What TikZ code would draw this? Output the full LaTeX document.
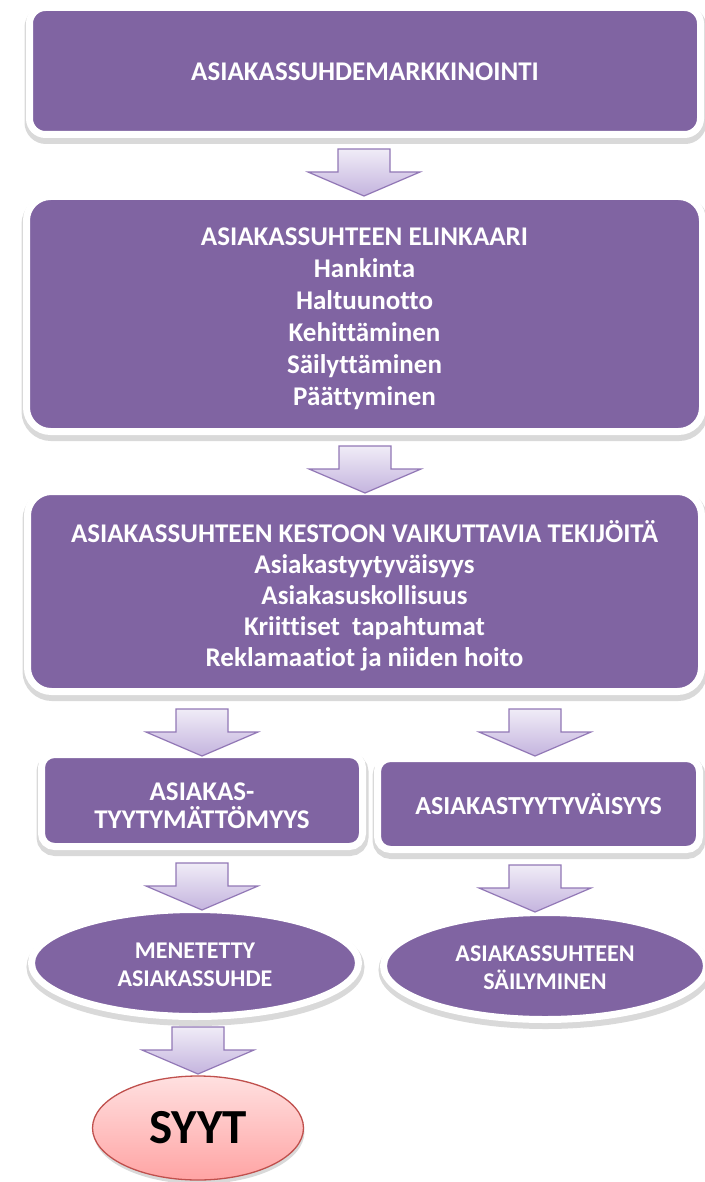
\documentclass[tikz,border=0pt]{standalone}
\usepackage{fontspec}
\setmainfont{Carlito}[Ligatures=NoCommon]
\usetikzlibrary{shapes.geometric}
\definecolor{purp}{RGB}{128,100,162}
\definecolor{arrtop}{RGB}{240,236,247}
\definecolor{arrbot}{RGB}{196,180,222}
\definecolor{arrline}{RGB}{146,120,182}
\definecolor{pinktop}{RGB}{255,224,224}
\definecolor{pinkbot}{RGB}{255,164,164}
\definecolor{redline}{RGB}{192,80,77}
\tikzset{
  softshadow/.style={preaction={draw=black, draw opacity=0.15, line width=11pt, fill=none,
      transform canvas={xshift=0.5pt, yshift=-4pt}}},
  pbox/.style={softshadow, rectangle, rounded corners=#1, fill=purp, draw=white,
      line width=7pt, inner sep=0pt},
  pell/.style={softshadow, ellipse, fill=purp, draw=white, line width=7pt, inner sep=0pt},
  ptext/.style={text=white, align=center, inner sep=0pt,
      font=\fontsize{27}{32}\selectfont\bfseries},
  redell/.style={ellipse, top color=pinktop, bottom color=pinkbot, draw=redline,
      line width=1.3pt, inner sep=0pt, font=\fontsize{49}{52}\selectfont\bfseries,
      preaction={fill=black, fill opacity=0.15, transform canvas={xshift=1pt, yshift=-4pt}}},
  blockarrow/.pic={
    \path[top color=arrtop, bottom color=arrbot, draw=arrline, line width=1.2pt, line join=miter]
      (-26,0) -- (26,0) -- (26,23) -- (56,23) -- (0,47) -- (-56,23) -- (-26,23) -- cycle;
  }
}
\begin{document}
\begin{tikzpicture}[x=1pt, y=-1pt]
\useasboundingbox[fill=white] (0,0) rectangle (704,1182);

% boxes and ellipses
\node[pbox=16, minimum width=671pt, minimum height=127pt] (b1) at (365,71) {};
\node[pbox=24, minimum width=676pt, minimum height=235pt] (b2) at (364.5,314) {};
\node[pbox=24, minimum width=674pt, minimum height=200pt] (b3) at (364.5,591.5) {};
\node[pbox=13, minimum width=321pt, minimum height=92pt] (b4) at (202,800.5) {};
\node[pbox=13, minimum width=322pt, minimum height=91pt] (b5) at (538.5,804) {};
\node[pell, minimum width=327pt, minimum height=107pt] (e1) at (195,963) {};
\node[pell, minimum width=323pt, minimum height=107pt] (e2) at (545,966) {};
\node[redell, minimum width=211pt, minimum height=104pt] (syyt) at (198,1128) {SYYT};

% texts
\node[ptext] (t1) at ([yshift=-1pt]b1.center) {ASIAKASSUHDEMARKKINOINTI};
\node[ptext] (t2) at ([yshift=-5pt]b2.center)
  {ASIAKASSUHTEEN ELINKAARI\\Hankinta\\Haltuunotto\\Kehittäminen\\Säilyttäminen\\Päättyminen};
\node[ptext, font=\fontsize{27}{31}\selectfont\bfseries] (t3) at ([yshift=-4.5pt]b3.center)
  {ASIAKASSUHTEEN KESTOON VAIKUTTAVIA TEKIJÖITÄ\\Asiakastyytyväisyys\\Asiakasuskollisuus\\Kriittiset\ \ tapahtumat\\Reklamaatiot ja niiden hoito};
\node[ptext, font=\fontsize{27}{28}\selectfont\bfseries] (t4) at ([yshift=-5pt]b4.center)
  {ASIAKAS-\\TYYTYMÄTTÖMYYS};
\node[ptext, font=\fontsize{26}{28}\selectfont\bfseries] (t5) at (b5.center)
  {ASIAKASTYYTYVÄISYYS};
\node[ptext, font=\fontsize{24}{28}\selectfont\bfseries] (t6) at ([yshift=-2pt]e1.center)
  {MENETETTY\\ASIAKASSUHDE};
\node[ptext, font=\fontsize{24}{28}\selectfont\bfseries] (t7) at ([yshift=-2pt]e2.center)
  {ASIAKASSUHTEEN\\SÄILYMINEN};

% block arrows between the boxes
\pic at ([yshift=-11pt]b1.south -| 364,0) {blockarrow};
\pic at ([yshift=-11pt]b2.south -| 365,0) {blockarrow};
\pic at ([yshift=-14pt]b3.south -| 202,0) {blockarrow};
\pic at ([yshift=-14pt]b3.south -| 535,0) {blockarrow};
\pic at ([yshift=-13pt]b4.south -| 202,0) {blockarrow};
\pic at ([yshift=-12pt]b5.south -| 535,0) {blockarrow};
\pic at ([yshift=-7pt]e1.south -| 198,0) {blockarrow};
\end{tikzpicture}
\end{document}
